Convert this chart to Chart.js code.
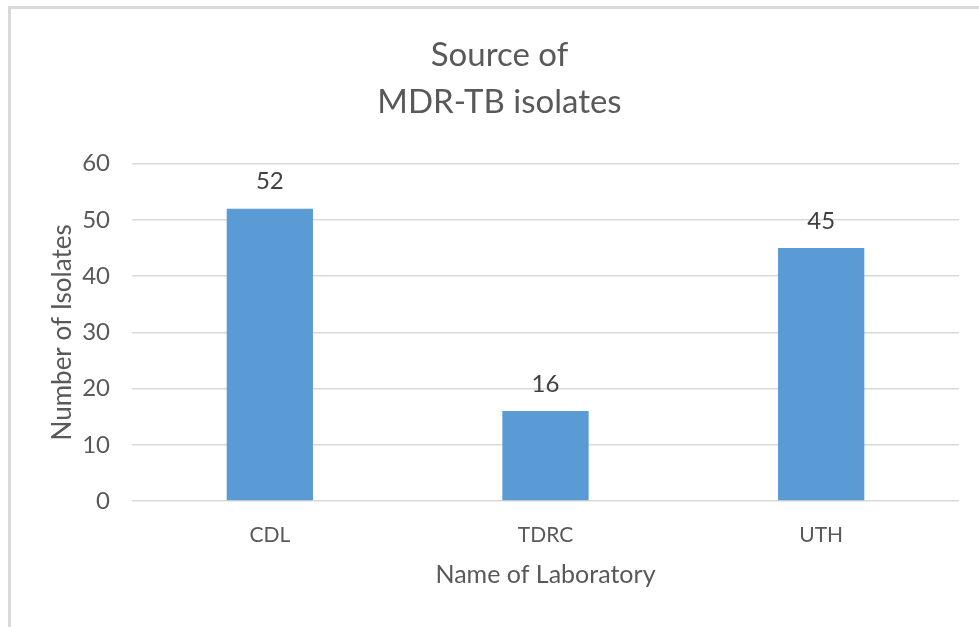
<!DOCTYPE html>
<html>
<head>
<meta charset="utf-8">
<script src="https://cdn.jsdelivr.net/npm/chart.js@4.4.0/dist/chart.umd.min.js"></script>
<style>
  html, body { margin: 0; padding: 0; background: #fff; overflow: hidden; }
  #frame { position: absolute; left: 8px; top: 6px; width: 1000px; height: 700px;
           border-left: 3px solid #d9d9d9; border-top: 3px solid #d9d9d9; }
  #wrap { position: absolute; left: 0; top: 0; width: 979px; height: 627px; }
</style>
</head>
<body>
<div id="frame"></div>
<div id="wrap"><canvas id="myChart"></canvas></div>
<script>
const labs = ["CDL", "TDRC", "UTH"];
const isolates = [52, 16, 45];
const yTicks = [0, 10, 20, 30, 40, 50, 60];
const titleLines = ["Source of", "MDR-TB isolates"];

const fontName = "Lato, 'Open Sans', sans-serif";
const textGrey = "#595959";

// value labels above the bars
const barLabels = {
    id: "barLabels",
    afterDatasetsDraw(chart) {
        const ctx = chart.ctx;
        const meta = chart.getDatasetMeta(0);
        ctx.save();
        ctx.font = "24px " + fontName;
        ctx.fillStyle = "#404040";
        ctx.textAlign = "center";
        ctx.textBaseline = "middle";
        meta.data.forEach(function(bar, i) {
            ctx.fillText(String(isolates[i]), bar.x, bar.y - 27);
        });
        ctx.restore();
    }
};

let chart = new Chart("myChart", {
    type: "bar",
    data: {
        labels: labs,
        datasets: [{
            data: isolates,
            backgroundColor: "#5b9bd5",
            categoryPercentage: 1,
            barPercentage: 0.313
        }]
    },
    options: {
        responsive: true,
        maintainAspectRatio: false,
        animation: false,
        layout: { padding: { left: 40, right: 20, top: 0, bottom: 20 } },
        plugins: {
            legend: { display: false },
            tooltip: { enabled: false },
            title: {
                display: true,
                text: titleLines,
                color: textGrey,
                font: { family: fontName, size: 33, weight: "normal", lineHeight: 1.45 },
                padding: { top: 31, bottom: 37 }
            }
        },
        scales: {
            x: {
                grid: { display: false },
                border: { display: false },
                ticks: { color: textGrey, font: { family: fontName, size: 21 }, padding: 14 },
                title: {
                    display: true, text: "Name of Laboratory", color: textGrey,
                    font: { family: fontName, size: 25 }, padding: { top: 0, bottom: 17 }
                },
                afterFit(scale) { scale.height = 106; }
            },
            y: {
                min: 0, max: 60,
                afterBuildTicks(scale) { scale.ticks = yTicks.map(v => ({ value: v })); },
                grid: { color: "#d9d9d9", lineWidth: 1.5, drawTicks: false },
                border: { display: false },
                ticks: { color: textGrey, font: { family: fontName, size: 24 }, padding: 22 },
                title: {
                    display: true, text: "Number of Isolates", color: textGrey,
                    font: { family: fontName, size: 26 }, padding: { top: 7, bottom: 0 }
                },
                afterFit(scale) { scale.width = 92; }
            }
        }
    },
    plugins: [barLabels]
});
</script>
</body>
</html>
